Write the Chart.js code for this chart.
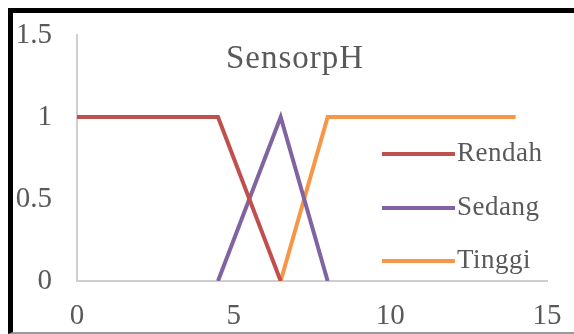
<!DOCTYPE html>
<html>
<head>
<meta charset="utf-8">
<script src="https://cdn.jsdelivr.net/npm/chart.js@4.4.1/dist/chart.umd.min.js"></script>
<style>
  html, body { margin: 0; padding: 0; background: #fff; }
  #wrap { position: relative; width: 574px; height: 334px; overflow: hidden; }
  #frame {
    position: absolute; left: 8px; top: 8px; right: -10px; bottom: 0px;
    border-left: 5px solid #000; border-top: 5px solid #000;
    border-bottom: 2px solid #9a9a9a;
    pointer-events: none;
  }
  canvas { position: absolute; left: 0; top: 0; }
</style>
</head>
<body>
<div id="wrap">
  <canvas id="c" width="574" height="334"></canvas>
  <div id="frame"></div>
</div>
<script>
// Fuzzy membership functions for the pH sensor
const chartTitle = 'SensorpH';
const seriesNames = ['Rendah', 'Sedang', 'Tinggi'];
const seriesColors = ['#C0504D', '#8064A2', '#F79646'];

const rendahX = [0, 4.5, 6.5];
const rendahY = [1, 1, 0];
const sedangX = [4.5, 6.5, 8];
const sedangY = [0, 1, 0];
const tinggiX = [6.5, 8, 14];
const tinggiY = [0, 1, 1];

const xTicks = [0, 5, 10, 15];
const yTicks = [0, 0.5, 1, 1.5];

const serif = '"Liberation Serif", "DejaVu Serif", serif';
const textColor = '#595959';

function pts(xs, ys) { return xs.map((x, i) => ({ x: x, y: ys[i] })); }

const seriesData = [pts(rendahX, rendahY), pts(sedangX, sedangY), pts(tinggiX, tinggiY)];

// Title drawn inside the plot area
const titlePlugin = {
  id: 'innerTitle',
  afterDraw(chart) {
    const ctx = chart.ctx;
    ctx.save();
    ctx.font = '33px ' + serif;
    ctx.letterSpacing = '1px';
    ctx.fillStyle = textColor;
    ctx.textAlign = 'center';
    ctx.textBaseline = 'alphabetic';
    ctx.fillText(chartTitle, 295, 68);
    ctx.restore();
  }
};

// Legend drawn on the right side over the plot
const legendPlugin = {
  id: 'sideLegend',
  afterDraw(chart) {
    const ctx = chart.ctx;
    const x0 = 382, x1 = 455, rowY = [154, 208, 261];
    ctx.save();
    ctx.font = '27px ' + serif;
    ctx.letterSpacing = '0.5px';
    ctx.textAlign = 'left';
    ctx.textBaseline = 'middle';
    chart.data.datasets.forEach((ds, i) => {
      ctx.strokeStyle = ds.borderColor;
      ctx.lineWidth = 4;
      ctx.beginPath();
      ctx.moveTo(x0, rowY[i]);
      ctx.lineTo(x1, rowY[i]);
      ctx.stroke();
      ctx.fillStyle = textColor;
      ctx.fillText(ds.label, x1 + 2, rowY[i]);
    });
    ctx.restore();
  }
};

new Chart(document.getElementById('c'), {
  type: 'line',
  data: {
    datasets: seriesNames.map((name, i) => ({
      label: name,
      data: seriesData[i],
      borderColor: seriesColors[i],
      backgroundColor: seriesColors[i],
      borderWidth: 4,
      pointRadius: 0,
      tension: 0,
      fill: false
    }))
  },
  options: {
    responsive: false,
    animation: false,
    devicePixelRatio: 1,
    layout: { padding: { left: 0, right: 27, top: 35, bottom: 0 } },
    plugins: { legend: { display: false }, title: { display: false }, tooltip: { enabled: false } },
    scales: {
      x: {
        type: 'linear',
        min: 0, max: 15,
        afterBuildTicks(axis) { axis.ticks = xTicks.map(v => ({ value: v })); },
        afterFit(axis) { axis.height = 53; axis.paddingLeft = 0; axis.paddingRight = 0; },
        grid: { display: false, drawTicks: false },
        border: { display: true, color: '#CFCFCF', width: 2 },
        ticks: { color: textColor, font: { family: serif, size: 29 }, padding: 18, maxRotation: 0,
                 callback: v => String(v) }
      },
      y: {
        type: 'linear',
        min: 0, max: 1.5,
        afterBuildTicks(axis) { axis.ticks = yTicks.map(v => ({ value: v })); },
        afterFit(axis) { axis.width = 77; axis.paddingTop = 0; axis.paddingBottom = 0; },
        grid: { display: false, drawTicks: false },
        border: { display: true, color: '#CFCFCF', width: 2 },
        ticks: { color: textColor, font: { family: serif, size: 29 }, padding: 25,
                 callback: v => String(v) }
      }
    }
  },
  plugins: [titlePlugin, legendPlugin]
});
</script>
</body>
</html>
